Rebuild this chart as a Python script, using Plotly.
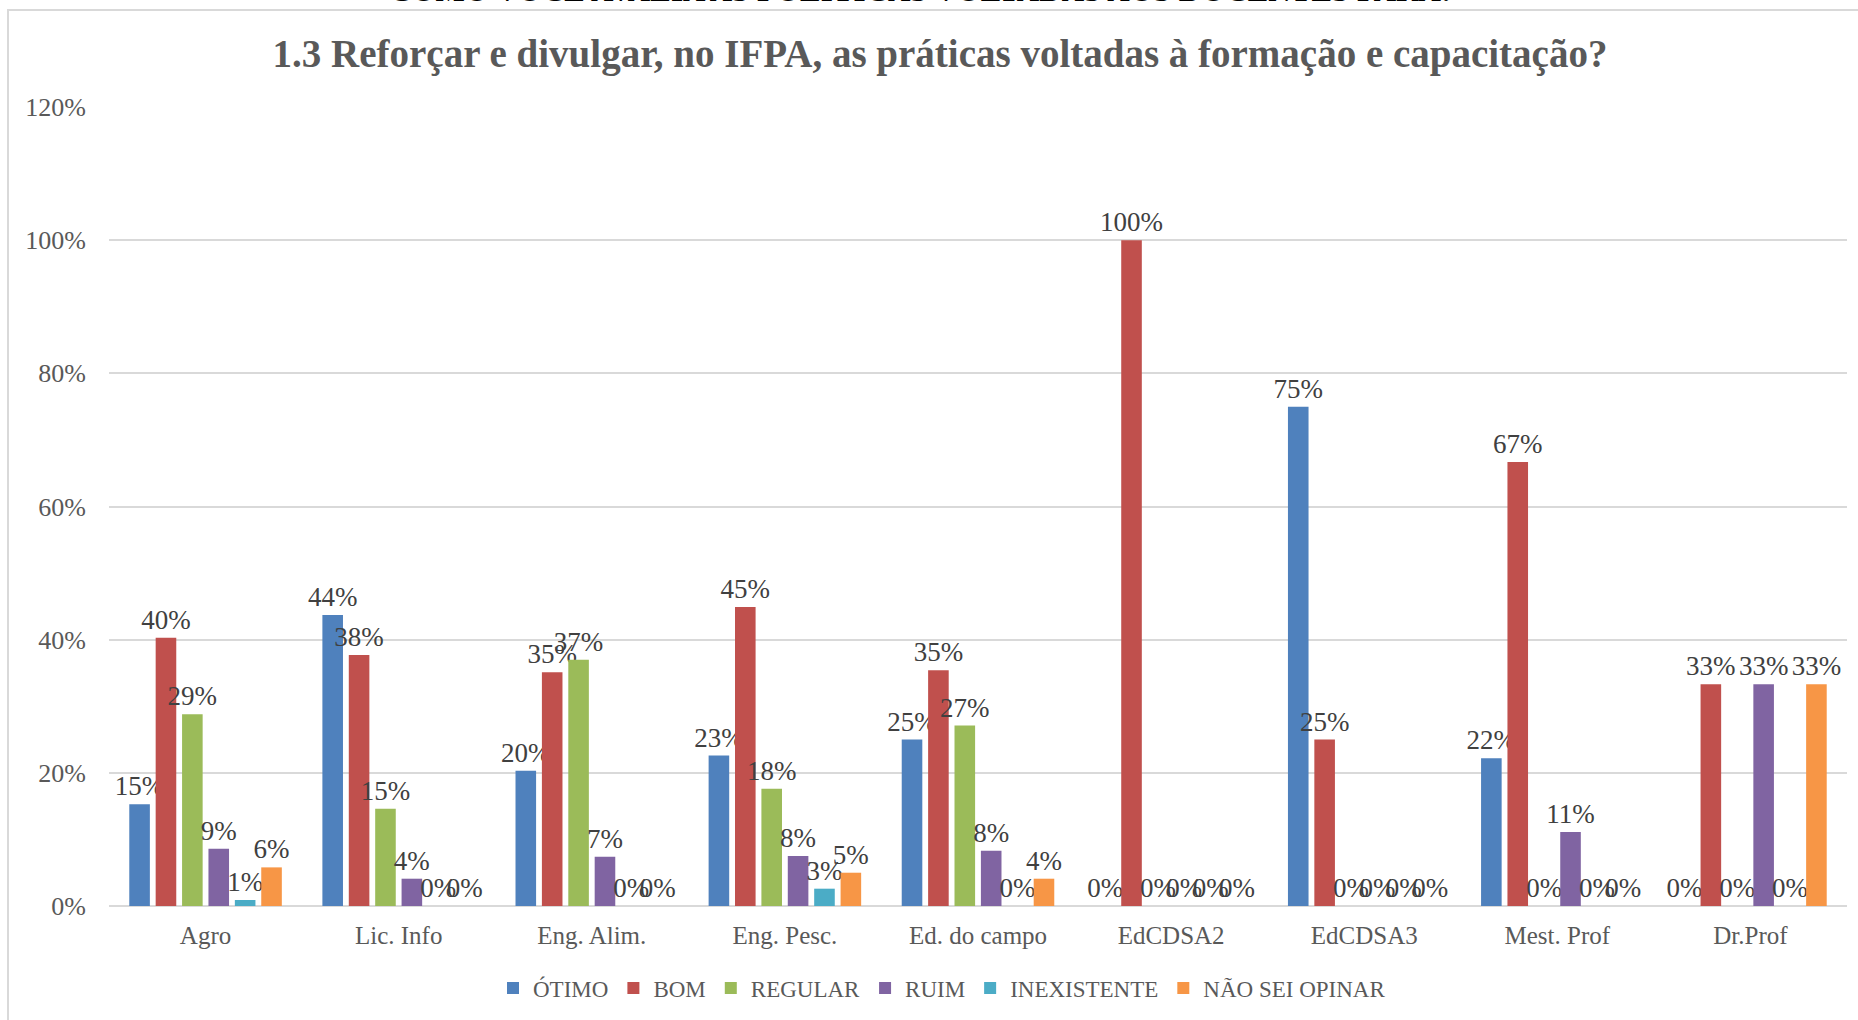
import plotly.graph_objects as go

categories = ["Agro", "Lic. Info", "Eng. Alim.", "Eng. Pesc.", "Ed. do campo",
              "EdCDSA2", "EdCDSA3", "Mest. Prof", "Dr.Prof"]

otimo = [0.153, 0.437, 0.203, 0.226, 0.250, 0.0, 0.75, 0.222, 0.0]
bom = [0.403, 0.377, 0.351, 0.449, 0.354, 1.0, 0.25, 0.667, 0.333]
regular = [0.288, 0.146, 0.370, 0.176, 0.271, 0.0, 0.0, 0.0, 0.0]
ruim = [0.086, 0.041, 0.074, 0.075, 0.083, 0.0, 0.0, 0.111, 0.333]
inexistente = [0.009, 0.0, 0.0, 0.026, 0.0, 0.0, 0.0, 0.0, 0.0]
nao_sei = [0.058, 0.0, 0.0, 0.050, 0.041, 0.0, 0.0, 0.0, 0.333]

series_names = ["ÓTIMO", "BOM", "REGULAR", "RUIM", "INEXISTENTE", "NÃO SEI OPINAR"]
series_values = [otimo, bom, regular, ruim, inexistente, nao_sei]
colors = ["#4F81BD", "#C0504D", "#9BBB59", "#8064A2", "#4BACC6", "#F79646"]

title_text = "1.3 Reforçar e divulgar, no IFPA, as práticas voltadas à formação e capacitação?"
top_text = "COMO VOCÊ AVALIA AS POLÍTICAS VOLTADAS AOS DOCENTES PARA:"

FONT = "Liberation Serif"

fig = go.Figure()
for name, vals, col in zip(series_names, series_values, colors):
    fig.add_trace(go.Bar(
        x=categories, y=vals, name=name,
        marker=dict(color=col, line=dict(width=0)),
        text=[f"{round(v*100):.0f}%" for v in vals],
        textposition="outside",
        textfont=dict(family=FONT, size=27, color="#404040"),
        constraintext="none",
        cliponaxis=False,
    ))

W, H = 1858, 1020
ml, mr, mt, mb = 109, 11, 107, 114
pw = W - ml - mr
ph = H - mt - mb

def px_x(x):
    return (x - ml) / pw

def px_y(y):
    return (H - mb - y) / ph

fig.update_layout(
    width=W, height=H,
    margin=dict(l=ml, r=mr, t=mt, b=mb),
    paper_bgcolor="white", plot_bgcolor="white",
    barmode="group", bargap=0.18, bargroupgap=0.22,
    font=dict(family=FONT, color="#595959"),
    title=dict(text=title_text, x=940 / W, xref="container", xanchor="center",
               y=1 - 53 / H, yref="container", yanchor="middle",
               font=dict(family=FONT, size=39, color="#595959", weight="bold")),
    legend=dict(orientation="h", x=942 / W, xref="container",
                xanchor="center", y=1 - 988 / H, yref="container", yanchor="middle",
                font=dict(family=FONT, size=23, color="#595959"),
                itemwidth=30, traceorder="normal"),
    showlegend=True,
    xaxis=dict(showgrid=False, showline=False, ticks="",
               tickfont=dict(family=FONT, size=25, color="#595959"),
               ticklabelstandoff=12),
    yaxis=dict(range=[0, 1.2], dtick=0.2, tickformat=".0%",
               showgrid=True, gridcolor="#D9D9D9", gridwidth=2,
               zeroline=True, zerolinecolor="#D9D9D9", zerolinewidth=2,
               showline=False, ticks="",
               tickfont=dict(family=FONT, size=26, color="#595959"),
               ticklabelstandoff=22),
    shapes=[dict(type="rect", xref="paper", yref="paper",
                 x0=px_x(8), x1=px_x(W + 20), y0=px_y(H + 20), y1=px_y(10),
                 line=dict(color="#D9D9D9", width=2), fillcolor="rgba(0,0,0,0)",
                 layer="below")],
    annotations=[dict(text=top_text, xref="paper", yref="paper",
                      x=px_x(920), y=px_y(10), xanchor="center", yanchor="bottom",
                      showarrow=False,
                      font=dict(family=FONT, size=31, color="#000000", weight="bold"))],
)

fig.write_html("out.html", config={"displayModeBar": False},
               post_script="document.body.style.margin='0px';document.body.style.overflow='hidden';")
